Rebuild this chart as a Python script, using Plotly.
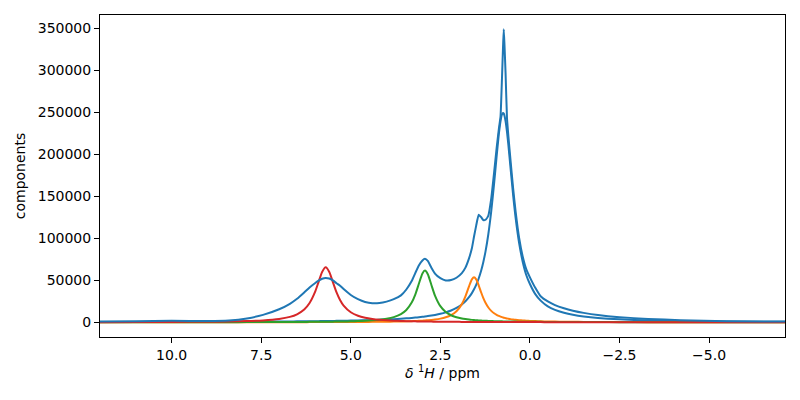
import plotly.graph_objects as go

# chemical shift grid (ppm)
ppm = [12.0, 11.0, 10.0, 9.0, 8.4, 7.9, 7.45, 7.0, 6.7, 6.5,
       6.3, 6.15, 6.0, 5.9, 5.8, 5.7, 5.6, 5.5, 5.4, 5.3,
       5.2, 5.0, 4.8, 4.6, 4.4, 4.2, 4.0, 3.8, 3.6, 3.45,
       3.3, 3.2, 3.1, 3.0, 2.93, 2.85, 2.75, 2.65, 2.5, 2.35,
       2.2, 2.05, 1.9, 1.8, 1.7, 1.62, 1.56, 1.5, 1.43, 1.36,
       1.3, 1.24, 1.16, 1.08, 1.0, 0.93, 0.87, 0.82, 0.78, 0.75,
       0.73, 0.71, 0.68, 0.64, 0.6, 0.54, 0.47, 0.4, 0.3, 0.2,
       0.1, 0.0, -0.15, -0.3, -0.5, -0.7, -0.95, -1.2, -1.5, -1.9,
       -2.5, -3.3, -4.2, -5.5, -7.12]

# measured spectrum
spectrum = [800, 1200, 1800, 1500, 2200, 4600, 8800, 15500, 22000, 28000,
            35500, 41500, 46500, 49500, 51800, 52800, 52000, 49800, 46500, 43500,
            39500, 32500, 27500, 24200, 22700, 22900, 24600, 27500, 32000, 39000,
            49000, 58500, 67500, 73500, 75500, 73000, 65000, 58000, 52500, 49800,
            50200, 53000, 58500, 65000, 76000, 88000, 102000, 115000, 128000, 125000,
            121500, 122000, 127000, 147000, 178000, 207000, 229000, 245000, 290000, 328000,
            348500, 330000, 297000, 243000, 221000, 192000, 160000, 132000, 100000, 78000,
            63000, 53500, 41000, 31000, 24800, 20500, 16700, 13800, 11200, 8600,
            6000, 4000, 2500, 1300, 800]

# fitted components
comp_0 = [300, 360, 440, 550, 640, 730, 830, 950, 1040, 1110,
          1190, 1260, 1330, 1380, 1430, 1490, 1550, 1610, 1680, 1750,
          1830, 2000, 2200, 2430, 2700, 3000, 3350, 3750, 4250, 4700,
          5200, 5600, 6050, 6550, 6900, 7350, 8000, 8750, 10100, 11800,
          14000, 17000, 21200, 25000, 29800, 34700, 39200, 44500, 52100, 61600,
          71800, 84100, 105000, 131800, 164900, 196900, 222800, 239400, 247200, 249000,
          248200, 245800, 239400, 226600, 210300, 183100, 151800, 124500, 93900, 71800,
          56000, 45500, 33500, 25800, 18900, 14700, 11300, 8900, 6900, 5100,
          3500, 2350, 1600, 1000, 650]

comp_1 = [38, 47, 59, 76, 89, 104, 121, 141, 158, 171,
          186, 198, 212, 222, 232, 244, 256, 269, 283, 298,
          315, 352, 397, 450, 515, 595, 696, 823, 989, 1150,
          1350, 1515, 1710, 1950, 2150, 2410, 2800, 3310, 4360, 5970,
          8600, 13200, 21600, 30800, 42800, 51100, 53500, 51100, 44000, 35400,
          28700, 23200, 17600, 13600, 10700, 8830, 7570, 6700, 6110, 5710,
          5460, 5240, 4920, 4530, 4190, 3750, 3310, 2940, 2520, 2170,
          1900, 1670, 1400, 1190, 970, 808, 657, 545, 444, 348,
          253, 177, 126, 84, 56]

comp_2 = [63, 79, 103, 140, 172, 209, 253, 311, 362, 403,
          452, 495, 544, 581, 621, 667, 717, 774, 837, 907,
          987, 1185, 1444, 1800, 2300, 3050, 4210, 6150, 9700, 14600,
          23400, 32900, 45800, 58100, 61500, 57200, 44400, 31800, 19200, 12300,
          8380, 6030, 4520, 3800, 3240, 2870, 2640, 2430, 2220, 2030,
          1890, 1760, 1610, 1475, 1360, 1265, 1195, 1140, 1100, 1070,
          1050, 1030, 1005, 970, 937, 893, 843, 798, 738, 686,
          639, 597, 540, 492, 437, 390, 342, 302, 263, 221,
          175, 133, 102, 73, 51]

comp_3 = [179, 253, 383, 648, 963, 1440, 2250, 3960, 6420, 9510,
          15200, 22900, 35800, 47800, 59900, 65400, 59900, 47800, 35800, 26500,
          19800, 11900, 7750, 5400, 3960, 3010, 2380, 1920, 1580, 1380,
          1210, 1120, 1040, 963, 915, 865, 808, 757, 688, 629,
          576, 530, 490, 465, 442, 425, 413, 401, 388, 376,
          366, 356, 344, 332, 321, 311, 304, 298, 293, 289,
          287, 285, 281, 277, 273, 266, 259, 253, 243, 235,
          226, 218, 207, 197, 185, 173, 161, 149, 137, 123,
          106, 88, 73, 57, 43]

components = [comp_0, comp_1, comp_2, comp_3]
colors = ["#1f77b4", "#ff7f0e", "#2ca02c", "#d62728"]

x_ticks = [10.0, 7.5, 5.0, 2.5, 0.0, -2.5, -5.0]
x_ticktext = ["10.0", "7.5", "5.0", "2.5", "0.0", "\u22122.5", "\u22125.0"]
y_ticks = [0, 50000, 100000, 150000, 200000, 250000, 300000, 350000]
y_ticktext = [str(v) for v in y_ticks]

fig = go.Figure()
for comp, col in zip(components, colors):
    fig.add_trace(go.Scatter(x=ppm, y=comp, mode="lines",
                             line=dict(color=col, width=2, shape="spline", smoothing=0.6),
                             showlegend=False))
fig.add_trace(go.Scatter(x=ppm, y=spectrum, mode="lines",
                         line=dict(color=colors[0], width=2, shape="spline", smoothing=0.4),
                         showlegend=False))

axis_style = dict(showline=True, mirror=True, linecolor="black", linewidth=1,
                  ticks="outside", ticklen=5, tickwidth=1, tickcolor="black",
                  showgrid=False, zeroline=False, automargin=False,
                  tickfont=dict(family="DejaVu Sans", size=14, color="black"))

fig.update_layout(
    width=800, height=400,
    margin=dict(l=100, r=15, t=15, b=63),
    paper_bgcolor="white", plot_bgcolor="white",
    font=dict(family="DejaVu Sans", size=14, color="black"),
    xaxis=dict(range=[12.0, -7.12], tickvals=x_ticks, ticktext=x_ticktext,
               title=dict(text="<i>δ</i> <sup>1</sup><i>H</i> / ppm",
                          font=dict(size=14), standoff=6),
               **axis_style),
    yaxis=dict(range=[-17500, 365500], tickvals=y_ticks, ticktext=y_ticktext,
               title=dict(text="components", font=dict(size=14), standoff=8),
               **axis_style),
)

# the page's default body margin would shift the figure by 8 px
fig.write_html("out.html", config={"displayModeBar": False},
               post_script="document.body.style.margin = '0px';")
